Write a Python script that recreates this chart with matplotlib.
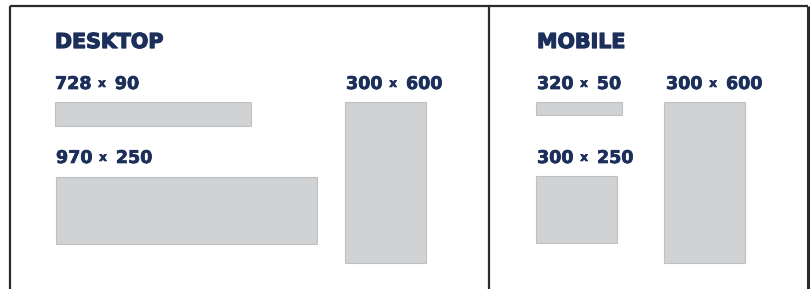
import matplotlib.pyplot as plt
import matplotlib.patheffects as pe
from matplotlib.patches import Rectangle

# ad formats: (width, height) in ad pixels
groups = ["DESKTOP", "MOBILE"]
desktop_sizes = [(728, 90), (970, 250), (300, 600)]
mobile_sizes = [(320, 50), (300, 250), (300, 600)]

# layout (figure pixels, y from top)
scale = 0.269
title_pos = [(55, 48), (537, 48)]
desktop_anchor = [(55, 102), (56, 177), (345, 102)]
desktop_label = [(55, 89), (56, 163), (346, 89)]
mobile_anchor = [(536, 102), (536, 176), (664, 102)]
mobile_label = [(537, 89), (537, 163), (666, 89)]

navy = "#1c2f5a"
fill = "#d1d2d4"
edge = "#bfc0c2"
line = "#2b2b2b"

fig = plt.figure(figsize=(8.12, 2.89), dpi=100)
ax = fig.add_axes([0, 0, 1, 1])
ax.set_xlim(0, 812)
ax.set_ylim(289, 0)
ax.axis("off")

# frame
ax.plot([10, 10], [289, 5.5], color=line, lw=1.6, solid_capstyle="butt")
ax.plot([10, 808], [5.5, 5.5], color=line, lw=1.6, solid_capstyle="butt")
ax.plot([808, 808], [5.5, 289], color=line, lw=2.2, solid_capstyle="butt")
ax.plot([489, 489], [5.5, 289], color=line, lw=1.6, solid_capstyle="butt")

heavy = [pe.withStroke(linewidth=0.5, foreground=navy)]


def size_label(x, y, w, h):
    t1 = ax.text(x, y, str(w), color=navy, fontsize=12.6, fontweight="bold",
                 va="baseline", ha="left", family="DejaVu Sans",
                 path_effects=heavy)
    ax.annotate("x", xy=(1, 0), xycoords=t1, xytext=(4.8, 2.2),
                textcoords="offset points", color=navy, fontsize=8.6,
                fontweight="bold", va="bottom", ha="left",
                family="DejaVu Sans", path_effects=heavy)
    ax.annotate(str(h), xy=(1, 0), xycoords=t1, xytext=(16.8, 0),
                textcoords="offset points", color=navy, fontsize=12.6,
                fontweight="bold", va="bottom", ha="left",
                family="DejaVu Sans", path_effects=heavy)


for name, (tx, ty) in zip(groups, title_pos):
    ax.text(tx, ty, name, color=navy, fontsize=14.8, fontweight="bold",
            va="baseline", ha="left", family="DejaVu Sans",
            path_effects=[pe.withStroke(linewidth=0.9, foreground=navy)])

for sizes, anchors, labels in [(desktop_sizes, desktop_anchor, desktop_label),
                               (mobile_sizes, mobile_anchor, mobile_label)]:
    for (w, h), (ax0, ay0), (lx, ly) in zip(sizes, anchors, labels):
        ax.add_patch(Rectangle((ax0, ay0), w * scale, h * scale,
                               facecolor=fill, edgecolor=edge, lw=0.8))
        size_label(lx, ly, w, h)

fig.savefig("out.png", dpi=100)
